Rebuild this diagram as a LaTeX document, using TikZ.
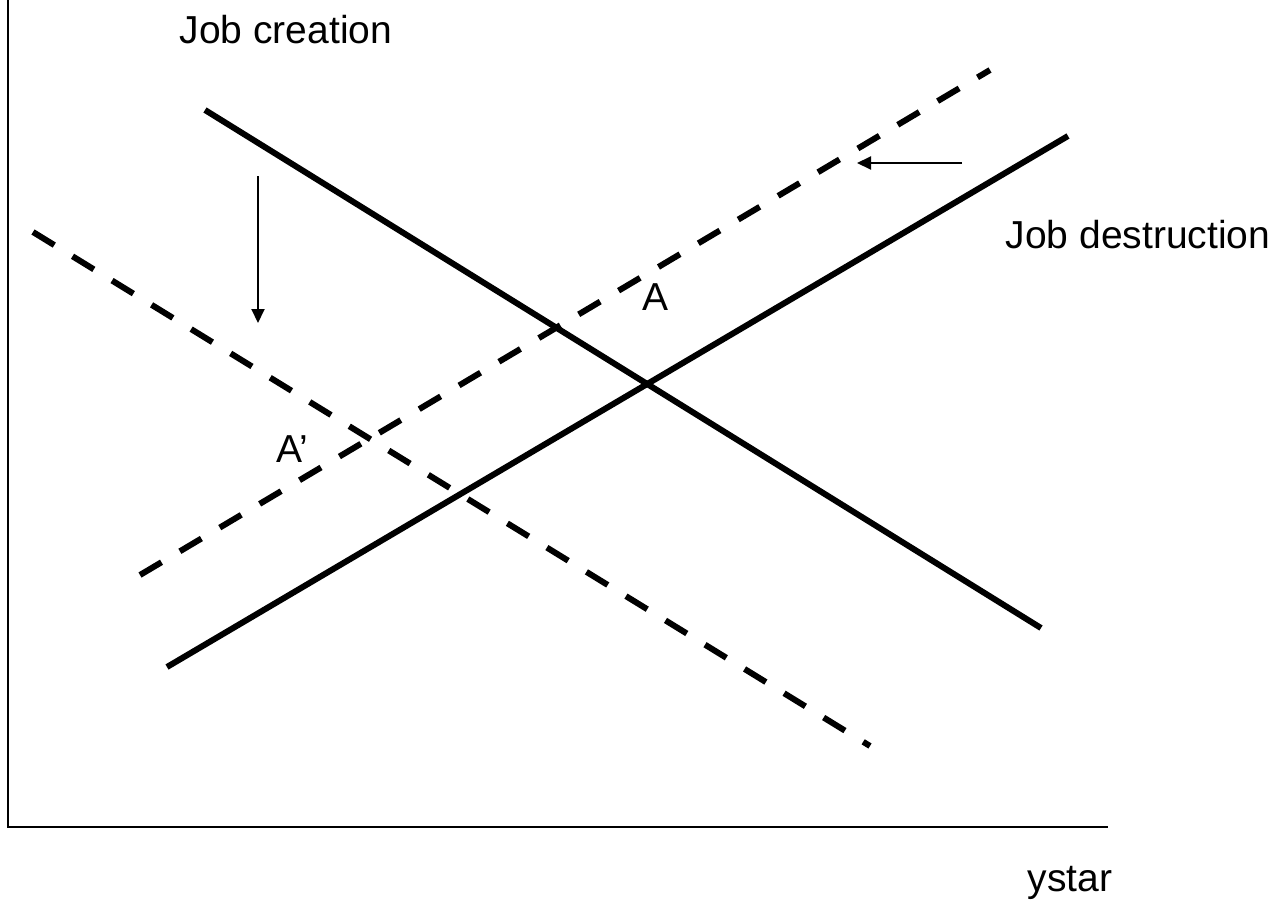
\documentclass[tikz,border=0pt]{standalone}
\usepackage{fontspec}
\setmainfont{Liberation Sans}
\usetikzlibrary{arrows.meta}
\begin{document}
\begin{tikzpicture}[x=0.02cm,y=-0.02cm,
  curve/.style={line width=0.12cm},
  shifted/.style={line width=0.12cm,dash pattern=on 0.5cm off 0.428cm},
  axis/.style={line width=0.05cm},
  shiftarrow/.style={line width=0.04cm,-{Triangle[length=0.28cm,width=0.26cm]}},
  lbl/.style={font=\fontsize{22.2}{26}\selectfont,anchor=base,inner sep=0pt}]
\useasboundingbox (0,0) rectangle (1279,903);
% axes
\coordinate (top) at (8,0);
\coordinate (origin) at (8,827);
\coordinate (right) at (1108,827);
\draw[axis] (top) -- (origin) -- (right);
% solid curves
\coordinate (jc1) at (205,110);
\coordinate (jc2) at (1041,628);
\coordinate (jd1) at (167,667);
\coordinate (jd2) at (1068,136);
\draw[curve] (jc1) -- (jc2);
\draw[curve] (jd1) -- (jd2);
% dashed shifted curves
\coordinate (sc1) at (33,232);
\coordinate (sc2) at (870,746);
\coordinate (sd1) at (140,575);
\coordinate (sd2) at (990,70);
\draw[shifted] (sc1) -- (sc2);
\draw[shifted] (sd1) -- (sd2);
% shift arrows
\coordinate (a1s) at (258,176);
\coordinate (a1e) at (258,323);
\coordinate (a2s) at (962,163);
\coordinate (a2e) at (857,163);
\draw[shiftarrow] (a1s) -- (a1e);
\draw[shiftarrow] (a2s) -- (a2e);
% labels
\node[lbl] (jclbl) at (286,43) {Job creation};
\node[lbl] (jdlbl) at (1138,248) {Job destruction};
\node[lbl] (ylbl) at (1070,891) {ystar};
\node[lbl] (alab) at (656,310) {A};
\node[lbl] (aplab) at (292,462) {A’};
\end{tikzpicture}
\end{document}
